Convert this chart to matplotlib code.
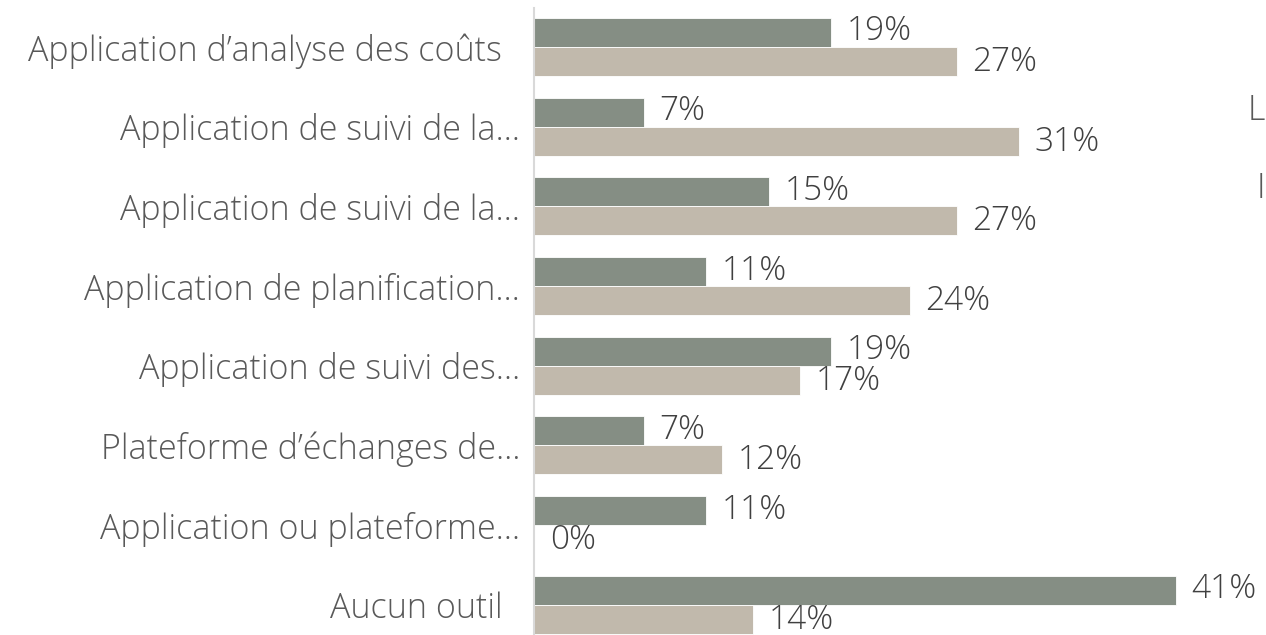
import matplotlib
matplotlib.use("Agg")
import matplotlib.pyplot as plt
import numpy as np

categories = [
    "Application d\u2019analyse des coûts  ",
    "Application de suivi de la\u2026",
    "Application de suivi de la\u2026",
    "Application de planification\u2026",
    "Application de suivi des\u2026",
    "Plateforme d\u2019échanges de\u2026",
    "Application ou plateforme\u2026",
    "Aucun outil  ",
]
series_a = [19, 7, 15, 11, 19, 7, 11, 41]
series_b = [27, 31, 27, 24, 17, 12, 0, 14]

dark = "#858E84"
light = "#C1B9AC"
txt = "#595959"

plt.rcParams["font.family"] = ["Open Sans", "DejaVu Sans"]
plt.rcParams["font.weight"] = 300

fig = plt.figure(figsize=(12.66, 6.35), dpi=100)
ax = fig.add_axes([534 / 1266, 0.0, 720 / 1266, 1 - 8 / 635])

y = np.arange(len(categories))
h = 0.364
ax.barh(y - h / 2, series_a, height=h, color=dark, edgecolor="white", linewidth=0.6)
ax.barh(y + h / 2, series_b, height=h, color=light, edgecolor="white", linewidth=0.6)

for i in range(len(categories)):
    ax.text(series_a[i] + 1.0, y[i] - h / 2 - 0.01, f"{series_a[i]}%",
            va="center", ha="left", fontsize=24, color="#404040")
    ax.text(series_b[i] + 1.0, y[i] + h / 2 + 0.01, f"{series_b[i]}%",
            va="center", ha="left", fontsize=24, color="#404040")

ax.set_xlim(0, 46)
ax.set_ylim(7.38, -0.49)
ax.set_yticks(y)
ax.set_yticklabels(categories, fontsize=24.5, color=txt)
ax.tick_params(axis="y", length=0, pad=10)
ax.set_xticks([])
for s in ["top", "right", "bottom"]:
    ax.spines[s].set_visible(False)
ax.spines["left"].set_color("#D9D9D9")
ax.spines["left"].set_linewidth(1.5)

# truncated legend fragments at the right edge
fig.text(1265 / 1266, 1 - 111 / 635, "L", fontsize=24.5, color=txt, va="center", ha="right")
fig.text(1265 / 1266, 1 - 189 / 635, "I", fontsize=24.5, color=txt, va="center", ha="right")

fig.savefig("out.png", dpi=100)
